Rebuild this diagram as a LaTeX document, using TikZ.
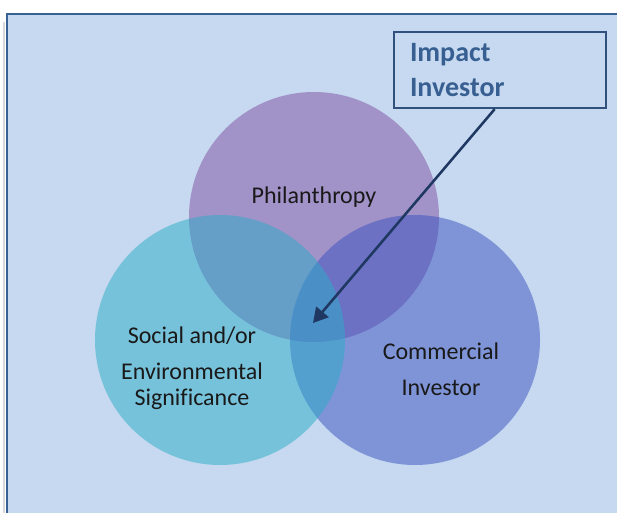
\documentclass[tikz,border=0pt]{standalone}
\usepackage{fontspec}
\setmainfont[Ligatures=NoCommon]{Carlito}
\usetikzlibrary{arrows.meta}
\definecolor{pagebg}{RGB}{198,217,240}
\definecolor{frameblue}{RGB}{56,98,148}
\definecolor{philcol}{RGB}{126,77,162}
\definecolor{commcol}{RGB}{56,81,192}
\definecolor{socialcol}{RGB}{42,173,200}
\definecolor{impactblue}{RGB}{55,95,145}
\definecolor{arrownavy}{RGB}{30,56,98}
\tikzset{
  venn/.style={
    % The shape:
    circle,minimum size=187.5pt,inner sep=0pt,
    % The filling (half see-through):
    fill opacity=0.5},
  lbl/.style={
    align=center,text=black!90,
    font=\fontsize{18}{19.5}\selectfont}}
\tikzset{
  impact/.style={
    % The shape:
    rectangle,minimum height=57pt,
    text width=135pt,inner xsep=12pt,
    % The border:
    line width=1.7pt,draw=impactblue!85!black,
    % The text:
    text=impactblue,align=left,
    font=\bfseries\fontsize{21}{26}\selectfont},
  pointer/.style={
    line width=1.9pt,draw=arrownavy,
    -{Triangle[length=11pt,width=12pt]}}}

\begin{document}
\begin{tikzpicture}[x=0.75pt,y=-0.75pt]
	\useasboundingbox (0,0) rectangle (617,513);
	\clip (0,0) rectangle (617,513);
	% Page with its frame
	\fill[pagebg] (7,14) rectangle (640,540);
	\draw[black!15,line width=1pt] (4,22) -- (4,540);
	\draw[frameblue,line width=1.5pt] (7,540) -- (7,14) -- (640,14);
	% The three circles
	\node[venn,fill=philcol] (phil) at (314,217) {};
	\node[venn,fill=commcol] (comm) at (415,340) {};
	\node[venn,fill=socialcol] (social) at (220,340) {};
	% Their labels
	\node[lbl] (philtext) at (314,197) {Philanthropy};
	\node[lbl] (socialtext) at (192,368) {Social and/or\\[7.5pt]Environmental\\Significance};
	\node[lbl] (commtext) at (441,369) {Commercial\\[7.5pt]Investor};
	% Box and arrow into the middle
	\node[impact] (box) at (500,70) {Impact\\Investor};
	\coordinate (tip) at (313,323);
	\draw[pointer] ([xshift=-4pt]box.south) -- (tip);
\end{tikzpicture}
\end{document}
